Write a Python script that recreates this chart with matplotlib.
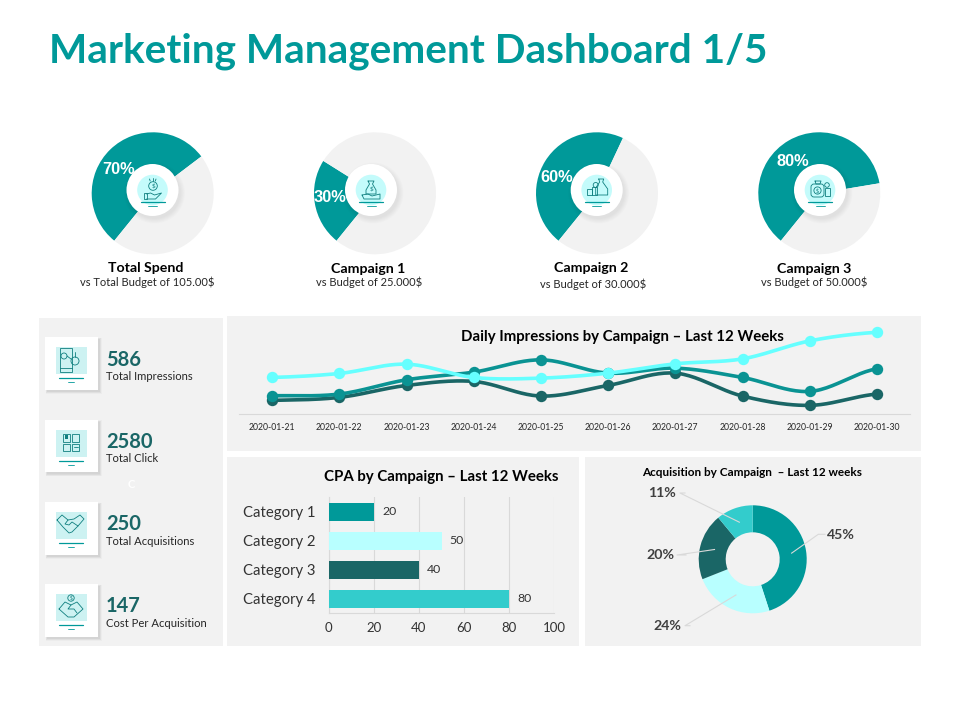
import numpy as np
import matplotlib
matplotlib.use("Agg")
import matplotlib.pyplot as plt
from matplotlib.patches import Circle, Rectangle, FancyBboxPatch

# ---- data ----
gauge_names = ["Total Spend", "Campaign 1", "Campaign 2", "Campaign 3"]
gauge_subs = ["vs Total Budget of 105.00$", "vs Budget of 25.000$", "vs Budget of 30.000$", "vs Budget of 50.000$"]
gauge_vals = [70, 30, 60, 80]
gauge_total = 130
dates = ["2020-01-21", "2020-01-22", "2020-01-23", "2020-01-24", "2020-01-25",
         "2020-01-26", "2020-01-27", "2020-01-28", "2020-01-29", "2020-01-30"]
line_a = [110, 122, 150, 110, 108, 123, 151, 166, 220, 246]
line_b = [55, 60, 103, 126, 163, 123, 138, 110, 68, 136]
line_c = [41, 50, 86, 98, 54, 86, 123, 54, 26, 60]
bar_cats = ["Category 1", "Category 2", "Category 3", "Category 4"]
bar_vals = [20, 50, 40, 80]
donut_vals = [45, 24, 20, 11]
kpi_vals = ["586", "2580", "250", "147"]
kpi_names = ["Total Impressions", "Total Click", "Total Acquisitions", "Cost Per Acquisition"]

TEAL = "#009999"; PALE = "#B8FFFF"; DARK = "#1A6666"; AQUA = "#33CCCC"; GREY = "#F2F2F2"
ICON = "#0F7F7F"
plt.rcParams["font.family"] = ["Lato", "DejaVu Sans"]

W, H = 960, 720
fig = plt.figure(figsize=(9.6, 7.2), dpi=100, facecolor="white")

def px_axes(x0, y0, x1, y1, z=1):
    ax = fig.add_axes([x0 / W, 1 - y1 / H, (x1 - x0) / W, (y1 - y0) / H], zorder=z)
    ax.patch.set_alpha(0)
    return ax

bg = px_axes(0, 0, W, H, 0); bg.set_xlim(0, W); bg.set_ylim(H, 0); bg.axis("off")
ov = px_axes(0, 0, W, H, 5); ov.set_xlim(0, W); ov.set_ylim(H, 0); ov.axis("off")

for x0, y0, x1, y1 in [(39, 318, 223, 646), (227, 316, 921, 451), (227, 457, 579, 646), (585, 457, 921, 646)]:
    bg.add_patch(Rectangle((x0, y0), x1 - x0, y1 - y0, fc=GREY, ec="none"))

ov.text(49, 62, "Marketing Management Dashboard 1/5", color=TEAL, fontsize=29.2, fontweight="bold", va="baseline", ha="left")

def stroke(pts, lw=0.6, c=ICON):
    p = np.array(pts, float)
    ov.plot(p[:, 0], p[:, 1], color=c, lw=lw, solid_capstyle="round", zorder=8)

def ring(x, y, r, lw=0.6, c=ICON):
    ov.add_patch(Circle((x, y), r, fc="none", ec=c, lw=lw, zorder=8))

def box(x, y, w, h, lw=0.6, c=ICON):
    ov.add_patch(Rectangle((x, y), w, h, fc="none", ec=c, lw=lw, zorder=8))

def base(x, y, half=12, short=4.5):
    stroke([(x - half, y), (x + half, y)], 0.9, "#009999")
    stroke([(x - short, y + 4), (x + short, y + 4)], 0.6, "#009999")

def tiny(x, y, s, size=4.5):
    ov.text(x, y, s, color=ICON, fontsize=size, ha="center", va="center", zorder=8)

def icon_hand(x, y):
    ring(x + .5, y - 4, 4.3); tiny(x + .5, y - 4, "$")
    stroke([(x, y - 12), (x, y - 9.5)]); stroke([(x - 3, y - 11), (x - 2.3, y - 9)]); stroke([(x + 3.5, y - 11), (x + 2.8, y - 9)])
    box(x - 9, y + 3, 3, 6)
    stroke([(x - 6, y + 4), (x - 2, y + 3), (x + 2, y + 5), (x + 9, y + 3), (x + 3, y + 9), (x - 6, y + 9)])
    base(x, y + 12)

def icon_bag(x, y):
    stroke([(x - 3, y - 9), (x + 3, y - 9), (x + 1.5, y - 6), (x + 5, y), (x + 5, y + 4), (x - 5, y + 4), (x - 5, y), (x - 1.5, y - 6), (x - 3, y - 9)])
    tiny(x, y - 1.5, "$")
    stroke([(x - 9, y + 5), (x - 3, y + 4), (x + 1, y + 6), (x + 9, y + 4), (x + 9, y + 9), (x - 7, y + 9), (x - 9, y + 5)])
    base(x, y + 12)

def icon_coins(x, y):
    stroke([(x + 2, y - 11), (x + 7, y - 11), (x + 6, y - 8), (x + 11, y - 1), (x + 11, y + 5), (x - 1, y + 5), (x - 1, y - 2), (x + 3, y - 8), (x + 2, y - 11)])
    ring(x - 1, y - 5, 2.5)
    box(x - 10, y - 1, 5, 6); box(x - 5, y - 3, 5, 8)
    base(x, y + 12)

def icon_money(x, y):
    ov.add_patch(FancyBboxPatch((x - 9, y - 6), 13, 13, boxstyle="round,pad=0,rounding_size=3", fc="none", ec=ICON, lw=0.6, zorder=8))
    ring(x - 2.5, y + .5, 3.6); tiny(x - 2.5, y + .5, "$", 4)
    box(x + 5, y - 2, 4.5, 8); ring(x + 7, y - 5, 2.3)
    stroke([(x - 5, y - 9), (x + 1, y - 9), (x, y - 6), (x - 4, y - 6), (x - 5, y - 9)])
    base(x, y + 12)

def icon_phone(x, y):
    box(x - 11, y - 12, 12, 24); stroke([(x - 11, y + 8), (x + 1, y + 8)])
    ring(x - 7, y - 4, 3); ring(x + 4, y + 1, 4); stroke([(x + 4, y - 8), (x + 4, y - 3)]); stroke([(x - 4, y - 4), (x, y - 1)])

def icon_grid(x, y):
    box(x - 8, y - 9, 7, 8); box(x + 1, y - 9, 7, 8); box(x - 8, y + 1, 7, 7); box(x + 1, y + 1, 7, 7)
    ov.add_patch(Rectangle((x - 6.5, y - 7.5), 3.5, 3.5, fc=ICON, ec="none", zorder=8))
    stroke([(x + 2.5, y + 4), (x + 6.5, y + 4)])

def icon_shake(x, y):
    stroke([(x - 14, y - 5), (x - 9, y - 10), (x - 3, y - 5), (x + 3, y - 6), (x + 9, y - 10), (x + 13, y - 6),
            (x + 7, y + 1), (x + 1, y + 7), (x - 2, y + 8), (x - 8, y + 2), (x - 14, y - 5)])
    stroke([(x - 3, y - 5), (x - 6, y - 1), (x - 2, y), (x + 1, y - 3), (x + 7, y + 1)])

def icon_shake2(x, y):
    ring(x, y - 9, 3.2); tiny(x, y - 9, "$", 3.5)
    stroke([(x - 12, y + 2), (x - 6, y - 5), (x, y - 2), (x + 6, y - 5), (x + 12, y + 2), (x + 3, y + 10), (x - 3, y + 10), (x - 12, y + 2)])
    stroke([(x, y - 2), (x - 3, y + 2), (x + 3, y + 2), (x + 6, y + 6)])

# ---- gauge doughnuts ----
gauge_cx = [152.7, 375, 597, 819.3]
hole_cx = [152.5, 371, 596.7, 820]
lab_pos = [(118.3, 169.5), (330, 197.5), (556.7, 177.5), (792.7, 161.7)]
cap_pos = [(146, 268.5, 147.3, 282.5), (368.3, 268.7, 369.3, 282.5), (591, 267.7, 593.3, 284.5), (814, 268.7, 814.3, 282.5)]
icons = [icon_hand, icon_bag, icon_coins, icon_money]
for i, v in enumerate(gauge_vals):
    cx = gauge_cx[i]; cy = 193.3; r = 61
    ax = px_axes(cx - r, cy - r, cx + r, cy + r, 1)
    ax.pie([v, gauge_total - v], colors=[TEAL, GREY], startangle=231, counterclock=False, radius=1,
           wedgeprops=dict(linewidth=0))
    ax.set_xlim(-1, 1); ax.set_ylim(-1, 1)
    hx = hole_cx[i]; hy = 190
    for k in range(6):
        ov.add_patch(Circle((hx + 2, hy + 3), 26 + k * 0.9, fc="black", ec="none", alpha=0.01, zorder=6))
    ov.add_patch(Circle((hx, hy), 26, fc="white", ec="none", zorder=6.5))
    ov.add_patch(Circle((hx, hy), 15.3, fc="#C4FBFB", ec="none", zorder=7))
    icons[i](hx, hy)
    lx, ly = lab_pos[i]
    ov.text(lx, ly, f"{v}%", color="white", fontsize=11.8, fontweight="bold", family="Liberation Sans", ha="center", va="center", zorder=9)
    a, b, c, d = cap_pos[i]
    ov.text(a, b, gauge_names[i], color="black", fontsize=10.2, fontweight="bold", ha="center", va="center")
    ov.text(c, d, gauge_subs[i], color="#262626", fontsize=8, ha="center", va="center")

# ---- KPI cards ----
card_tops = [337, 419.5, 502, 584]
kpi_icons = [icon_phone, icon_grid, icon_shake, icon_shake2]
for i, t in enumerate(card_tops):
    for k in range(5):
        bg.add_patch(Rectangle((47 - k * .3, t + 2 - k * .3), 52.5 + k * .8, 52.5 + k * .8, fc="black", ec="none", alpha=0.025))
    bg.add_patch(Rectangle((45, t), 53, 52.5, fc="white", ec="none"))
    bg.add_patch(Rectangle((56, t + 10), 31, 27, fc="#CDF2F2", ec="none"))
    kpi_icons[i](71, t + 23)
    base(71, t + 41, 12, 3)
    ov.text(106, t + 22.5, kpi_vals[i], color=DARK, fontsize=14.5, fontweight="bold", ha="left", va="center")
    ov.text(106, t + 39.5, kpi_names[i], color="#262626", fontsize=8.1, ha="left", va="center")
ov.text(131, 484, "C", color="white", fontsize=8, fontweight="bold", ha="center", va="center")

# ---- smooth line chart ----
def smooth(y, n=24):
    y = np.asarray(y, float)
    p = np.r_[y[0], y, y[-1]]
    xs, ys = [], []
    for i in range(len(y) - 1):
        t = np.linspace(0, 1, n, endpoint=False)
        a, b, c, d = p[i], p[i + 1], p[i + 2], p[i + 3]
        ys.append(0.5 * (2 * b + (c - a) * t + (2 * a - 5 * b + 4 * c - d) * t**2 + (3 * b - a - 3 * c + d) * t**3))
        xs.append(i + t)
    return np.r_[np.concatenate(xs), len(y) - 1], np.r_[np.concatenate(ys), y[-1]]

lax = px_axes(238.5, 315, 910.5, 414, 2)
xpos = np.arange(len(dates))
for vals, col in [(line_c, DARK), (line_b, "#0A9393"), (line_a, "#66FFFF")]:
    sx, sy = smooth(vals)
    lax.plot(sx, sy, color=col, lw=2.6, zorder=3)
    lax.plot(xpos, vals, ls="none", marker="o", ms=8.2, color=col, mec="none", zorder=3)
lax.set_xlim(-0.5, 9.5); lax.set_ylim(0, 298)
lax.set_xticks(xpos, dates, fontsize=6.2, color="#262626")
lax.set_yticks([])
lax.tick_params(axis="x", length=0, pad=6.5)
for s in ["top", "left", "right"]:
    lax.spines[s].set_visible(False)
lax.spines["bottom"].set_color("#D9D9D9"); lax.spines["bottom"].set_linewidth(0.8)
ov.text(622, 337.5, "Daily Impressions by Campaign – Last 12 Weeks", color="black", fontsize=10.8, fontweight="bold", ha="center", va="center")

# ---- bar chart ----
bax = px_axes(328.7, 497.3, 554.3, 613.3, 2)
ypos = np.arange(len(bar_cats))
bars = bax.barh(ypos, bar_vals, height=0.63, color=[TEAL, PALE, DARK, AQUA], zorder=3)
bax.set_ylim(3.5, -0.5); bax.set_xlim(0, 100)
bax.set_yticks(ypos, bar_cats, fontsize=10.7, color="#333333")
bax.set_xticks(range(0, 101, 20))
bax.tick_params(axis="both", length=0, labelcolor="#333333")
bax.tick_params(axis="y", labelsize=10.7, pad=9.4)
bax.tick_params(axis="x", labelsize=9.5, pad=6.5)
bax.grid(axis="x", color="#D9D9D9", lw=0.8, zorder=0)
for s in ["top", "right"]:
    bax.spines[s].set_visible(False)
for s in ["left", "bottom"]:
    bax.spines[s].set_color("#D9D9D9"); bax.spines[s].set_linewidth(0.8)
bax.bar_label(bars, padding=6, fontsize=8.8, color="#333333")
ov.text(441, 477.3, "CPA by Campaign – Last 12 Weeks", color="black", fontsize=10.8, fontweight="bold", ha="center", va="center")

# ---- donut ----
dcx, dcy, dr = 752.7, 559.3, 54
dax = px_axes(dcx - dr, dcy - dr, dcx + dr, dcy + dr, 2)
dax.pie(donut_vals, colors=[TEAL, PALE, DARK, AQUA], startangle=90, counterclock=False, radius=1,
        wedgeprops=dict(width=0.5, linewidth=0))
dax.set_xlim(-1, 1); dax.set_ylim(-1, 1)
ov.text(752, 472.3, "Acquisition by Campaign  – Last 12 weeks", color="black", fontsize=8.45, fontweight="bold", ha="center", va="center")
label_xy = [(841, 535.3), (667, 626), (660, 555), (662.3, 493)]
elbow_xy = [[(818.3, 534.3), (825, 534.3)], [(685, 625.7), (690, 625.7)], [(677, 555), (686, 555)], [(680, 493), (685, 493)]]
cum = 0
for v, (tx, ty), el in zip(donut_vals, label_xy, elbow_xy):
    mid = np.deg2rad((cum + v / 2) * 3.6); cum += v
    sx = dcx + 0.73 * dr * np.sin(mid); sy = dcy - 0.73 * dr * np.cos(mid)
    pts = np.array([(sx, sy)] + el)
    ov.plot(pts[:, 0], pts[:, 1], color="#D9D9D9", lw=0.8, zorder=6)
    ov.text(tx, ty, f"{v}%", color="#404040", fontsize=10.2, fontweight="bold", ha="center", va="center", zorder=7)

fig.savefig("out.png", dpi=100)
